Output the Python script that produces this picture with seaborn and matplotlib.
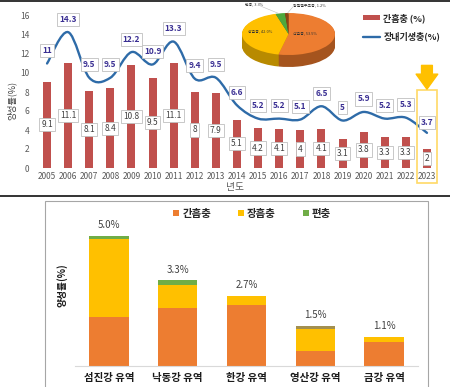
import matplotlib
matplotlib.use("Agg")
import matplotlib.pyplot as plt
import numpy as np
import pandas as pd
import seaborn as sns
from matplotlib.patches import Rectangle, Patch, PathPatch
from matplotlib.lines import Line2D
from matplotlib.path import Path

# top chart: yearly positive rates (%)
years = [str(y) for y in range(2005, 2024)]
liver_rate = [9.1, 11.1, 8.1, 8.4, 10.8, 9.5, 11.1, 8, 7.9, 5.1,
              4.2, 4.1, 4, 4.1, 3.1, 3.8, 3.3, 3.3, 2]
intestinal_rate = [11, 14.3, 9.5, 9.5, 12.2, 10.9, 13.3, 9.4, 9.5, 6.6,
                   5.2, 5.2, 5.1, 6.5, 5, 5.9, 5.2, 5.3, 3.7]

# inset pie: share of species
pie_names = ['간흡충', '장흡충', '편충', '광절열두조충']
pie_share = [53.5, 42.0, 3.3, 1.2]

# bottom chart: stacked rates by river basin (%)
basins = ['섬진강 유역', '낙동강 유역', '한강 유역', '영산강 유역', '금강 유역']
basin_totals = ['5.0%', '3.3%', '2.7%', '1.5%', '1.1%']
liver_fluke = [1.9, 2.25, 2.35, 0.59, 0.93]
intestinal_fluke = [2.97, 0.88, 0.35, 0.83, 0.17]
whipworm = [0.13, 0.17, 0.0, 0.0, 0.03]
other = [0.0, 0.0, 0.0, 0.12, 0.0]

RED = '#C0504D'
BLUE = '#2E6BA8'
ORANGE = '#ED7D31'
YELLOW = '#FFC000'
GREEN = '#70AD47'
OLIVE = '#A39050'


def smooth_path(xs, ys):
    # excel-like smoothed line as bezier segments through the data points
    pts = np.column_stack([xs, ys]).astype(float)
    n = len(pts)
    verts, codes = [pts[0]], [Path.MOVETO]
    for i in range(n - 1):
        p0 = pts[max(i - 1, 0)]
        p1, p2 = pts[i], pts[i + 1]
        p3 = pts[min(i + 2, n - 1)]
        verts += [p1 + (p2 - p0) / 6, p2 - (p3 - p1) / 6, p2]
        codes += [Path.CURVE4] * 3
    return Path(verts, codes)


sns.set_theme(style='white')
plt.rcParams['font.family'] = ['Noto Sans CJK KR', 'DejaVu Sans']

W, H = 450, 387
fig = plt.figure(figsize=(4.5, 3.87), dpi=100)
fig.patch.set_facecolor('white')


def fx(px):
    return px / W


def fy(py):
    return 1 - py / H


# ---------------- top chart ----------------
ax = fig.add_axes([fx(36.5), fy(168), fx(401), 152 / H])
sns.barplot(x=years, y=liver_rate, color=RED, width=0.38, saturation=1,
            errorbar=None, linewidth=0, edgecolor='none', ax=ax)
xs = np.arange(len(years))
ax.add_patch(PathPatch(smooth_path(xs, intestinal_rate), fill=False,
                       ec=BLUE, lw=1.7, capstyle='round'))
ax.set_xlim(-0.5, len(years) - 0.5)
ax.set_ylim(0, 16)
ax.set_yticks(range(0, 17, 2))
ax.set_xlabel('')
ax.set_ylabel('')
for s in ax.spines.values():
    s.set_visible(False)
ax.tick_params(axis='both', length=0, labelsize=6, colors='#595959')
ax.tick_params(axis='y', pad=5)
ax.tick_params(axis='x', pad=3)

for i, v in enumerate(liver_rate):
    ax.text(i, v / 2, f'{v:g}', ha='center', va='center', fontsize=6,
            color='#404040',
            bbox=dict(boxstyle='square,pad=0.25', fc='white', ec='#BFBFBF', lw=0.6))
for i, v in enumerate(intestinal_rate):
    off = 10 if i == len(years) - 1 else 13
    ax.annotate(f'{v:g}', (i, v), xytext=(0, off), textcoords='offset pixels',
                ha='center', va='center', fontsize=6, fontweight='bold',
                color='#3A2F93',
                bbox=dict(boxstyle='square,pad=0.25', fc='white', ec='#BFBFBF', lw=0.6))

# highlight of the last year
last = len(years) - 1
ax.add_patch(Rectangle((last - 0.47, -1.6), 0.94, 9.8, fill=False,
                       ec='#FFD966', lw=1.2, clip_on=False))
ax.annotate('', xy=(last, 8.3), xytext=(last, 10.8),
            arrowprops=dict(arrowstyle='simple,head_width=1.3,head_length=0.9,tail_width=0.65',
                            color=YELLOW, shrinkA=0, shrinkB=0))

fig.text(fx(12), fy(100), '양성률(%)', rotation=90, ha='center', va='center',
         fontsize=6.5, color='#404040')
fig.text(fx(235), fy(187), '년도', ha='center', va='center', fontsize=7,
         color='#595959')

fig.legend(handles=[Patch(fc=RED, ec='none'), Line2D([], [], color=BLUE, lw=1.7)],
           labels=['간흡충 (%)', '장내기생충(%)'], loc='upper left',
           bbox_to_anchor=(fx(363), fy(13)), frameon=False, handlelength=1.9,
           handleheight=0.5, labelspacing=1.0, handletextpad=0.35,
           borderaxespad=0, borderpad=0,
           prop=dict(size=6.5, weight='bold'), labelcolor='#262626')

# ---------------- inset pie ----------------
pax = fig.add_axes([fx(242), fy(70), fx(93), 70 / H])
dark = ['#A5541E', '#B88A00', '#3F7A30', '#5C3317']
colors = [ORANGE, YELLOW, '#4EA83D', '#8B4513']
depth = 0.57
for c in np.linspace(-depth, -0.03, 14):
    pax.pie(pie_share, colors=dark, startangle=90, counterclock=False,
            center=(0, c), radius=1, wedgeprops=dict(lw=0))
pax.pie(pie_share, colors=colors, startangle=90, counterclock=False,
        center=(0, 0), radius=1, wedgeprops=dict(lw=0))
pax.set_aspect('auto')
pax.set_xlim(-1, 1)
pax.set_ylim(1.62 - 70 / 21, 1.62)
pax.axis('off')
pax.text(0.35, 0.05, f'{pie_names[0]}, {pie_share[0]:.1f}%', fontsize=2.8,
         ha='center', va='center', color='#333333')
pax.text(-0.62, 0.14, f'{pie_names[1]}, {pie_share[1]:.1f}%', fontsize=2.8,
         ha='center', va='center', color='#333333')
pax.text(-0.74, 1.43, f'{pie_names[2]}, {pie_share[2]:.1f}%', fontsize=2.8,
         ha='center', va='center', color='#333333', clip_on=False)
pax.text(0.45, 1.38, f'{pie_names[3]}, {pie_share[3]:.1f}%', fontsize=2.8,
         ha='center', va='center', color='#333333', clip_on=False)
pax.plot([-0.6, -0.2], [1.33, 0.97], color='#BFBFBF', lw=0.4, clip_on=False)
pax.plot([0.1, -0.02], [1.3, 1.0], color='#BFBFBF', lw=0.4, clip_on=False)

# ---------------- separators and frame ----------------
fig.add_artist(Line2D([0, 1], [fy(0.8), fy(0.8)], transform=fig.transFigure,
                      color='#333333', lw=1.4))
fig.add_artist(Line2D([0, 1], [fy(195.5), fy(195.5)], transform=fig.transFigure,
                      color='#333333', lw=1.4))
fig.add_artist(Rectangle((fx(45), -0.02), fx(428 - 45), fy(201) + 0.02,
                         transform=fig.transFigure, fill=False, ec='#A6A6A6', lw=0.8))

# ---------------- bottom chart ----------------
ax2 = fig.add_axes([fx(74.6), fy(366), fx(343.8), (366 - 205) / H])
stack = pd.DataFrame({'basin': basins, '간흡충': liver_fluke, '장흡충': intestinal_fluke,
                      '편충': whipworm, '기타': other})
layers = [('간흡충', ORANGE), ('장흡충', YELLOW), ('편충', GREEN), ('기타', OLIVE)]
cum = stack[[n for n, _ in layers]].cumsum(axis=1)
for name, color in reversed(layers):
    sns.barplot(x=stack['basin'], y=cum[name], color=color, width=0.57,
                saturation=1, errorbar=None, linewidth=0, edgecolor='none', ax=ax2)
ax2.set_xlim(-0.5, len(basins) - 0.5)
ax2.set_ylim(0, (366 - 205) / 26)
ax2.set_yticks([])
ax2.set_xlabel('')
ax2.set_ylabel('')
for k, s in ax2.spines.items():
    s.set_visible(k == 'bottom')
ax2.spines['bottom'].set_color('#D9D9D9')
ax2.spines['bottom'].set_linewidth(0.8)
ax2.tick_params(axis='x', length=0, pad=5, labelsize=7.5, colors='#1A1A1A')
for t in ax2.get_xticklabels():
    t.set_fontweight('bold')

totals = cum['기타'].values
for i, (tot, lab) in enumerate(zip(totals, basin_totals)):
    ax2.annotate(lab, (i, tot), xytext=(0, 4), textcoords='offset points',
                 ha='center', va='bottom', fontsize=7, color='#404040')

fig.text(fx(62), fy(285), '양성률(%)', rotation=90, ha='center', va='center',
         fontsize=7, fontweight='bold', color='#1A1A1A')

fig.legend(handles=[Patch(fc=c, ec='none') for _, c in layers[:3]],
           labels=[n for n, _ in layers[:3]], loc='center left',
           bbox_to_anchor=(fx(164), fy(214)), ncol=3, frameon=False,
           handlelength=0.55, handleheight=0.55, handletextpad=0.3,
           columnspacing=2.6, prop=dict(size=7.5, weight='bold'),
           labelcolor='#262626')

fig.savefig('out.png', dpi=100, facecolor='white')
